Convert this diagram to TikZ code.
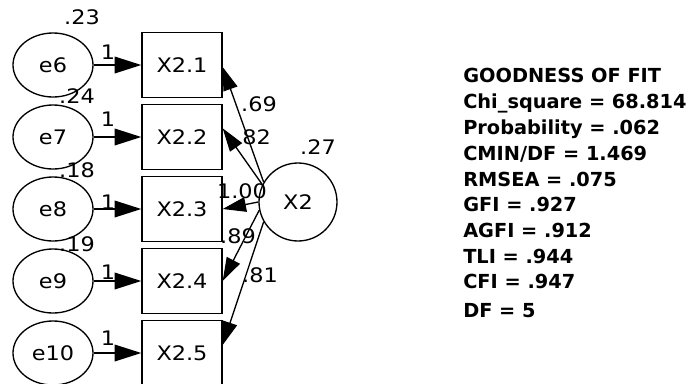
\documentclass[tikz,border=0pt]{standalone}
\usepackage{fontspec}
\usetikzlibrary{arrows.meta,shapes.geometric}
\newfontfamily\diagfont[FakeStretch=1.12]{DejaVu Sans}
\newfontfamily\goffont{DejaVu Sans}
\begin{document}
\begin{tikzpicture}[x=0.75pt,y=-0.75pt,
  every node/.style={font=\diagfont\fontsize{15pt}{17pt}\selectfont},
  errnode/.style={draw,line width=1pt,ellipse,minimum width=60pt,minimum height=48pt,inner sep=0pt},
  obsbox/.style={draw,line width=1pt,rectangle,minimum width=60pt,minimum height=48.75pt,inner sep=0pt},
  latnode/.style={draw,line width=1pt,circle,minimum size=58.5pt,inner sep=0pt},
  lbl/.style={inner sep=0pt},
  earr/.style={line width=1pt,-{Triangle[length=20pt,width=12.5pt]}},
  larr/.style={line width=1pt,-{Triangle[length=17.5pt,width=11pt]}},
  gof/.style={anchor=base west,inner sep=0pt,font=\goffont\bfseries\fontsize{14.5pt}{16pt}\selectfont}
]
\useasboundingbox[fill=white] (0,0) rectangle (694,383);
\clip (0,0) rectangle (694,383);

% error terms
\node[errnode] (e6) at (53,65) {e6};
\node[errnode] (e7) at (53,137) {e7};
\node[errnode] (e8) at (53,209) {e8};
\node[errnode] (e9) at (53,281) {e9};
\node[errnode] (e10) at (53,353) {e10};

% observed variables
\node[obsbox] (x21) at (182,65) {X2.1};
\node[obsbox] (x22) at (182,137) {X2.2};
\node[obsbox] (x23) at (182,209) {X2.3};
\node[obsbox] (x24) at (182,281) {X2.4};
\node[obsbox] (x25) at (182,353) {X2.5};

% latent
\node[latnode] (X2) at (298,202) {X2};

% error arrows
\draw[earr] (e6) -- (x21);
\draw[earr] (e7) -- (x22);
\draw[earr] (e8) -- (x23);
\draw[earr] (e9) -- (x24);
\draw[earr] (e10) -- (x25);

% loadings
\draw[larr] (X2.150) -- ([yshift=-1.5pt]x21.east);
\draw[larr] (X2.154) -- ([yshift=6.5pt]x22.east);
\draw[larr] (X2.180) -- (x23.east);
\draw[larr] (X2.192) -- (x24.east);
\draw[larr] (X2.210) -- ([yshift=6pt]x25.east);

% weights 1
\node[lbl] (w6) at (108,52) {1};
\node[lbl] (w7) at (108,119) {1};
\node[lbl] (w8) at (108,202) {1};
\node[lbl] (w9) at (108,272) {1};
\node[lbl] (w10) at (108,338) {1};

% variances
\node[lbl] (v6) at (82,17) {.23};
\node[lbl] (v7) at (77,96) {.24};
\node[lbl] (v8) at (77,170) {.18};
\node[lbl] (v9) at (77,244) {.19};
\node[lbl] (vX) at (318,147) {.27};

% loading labels
\node[lbl] (l1) at (259,104) {.69};
\node[lbl] (l2) at (253,137) {.82};
\node[lbl] (l3) at (242,191) {1.00};
\node[lbl] (l4) at (238,236) {.89};
\node[lbl] (l5) at (260,275) {.81};

% goodness of fit
\node[gof] (g0) at (463,82) {GOODNESS OF FIT};
\node[gof] (g1) at (463,108) {Chi\_square = 68.814};
\node[gof] (g2) at (463,134) {Probability = .062};
\node[gof] (g3) at (463,160) {CMIN/DF = 1.469};
\node[gof] (g4) at (463,186) {RMSEA = .075};
\node[gof] (g5) at (463,211) {GFI = .927};
\node[gof] (g6) at (463,237) {AGFI = .912};
\node[gof] (g7) at (463,263) {TLI = .944};
\node[gof] (g8) at (463,288) {CFI = .947};
\node[gof] (g9) at (463,317) {DF = 5};
\end{tikzpicture}
\end{document}
